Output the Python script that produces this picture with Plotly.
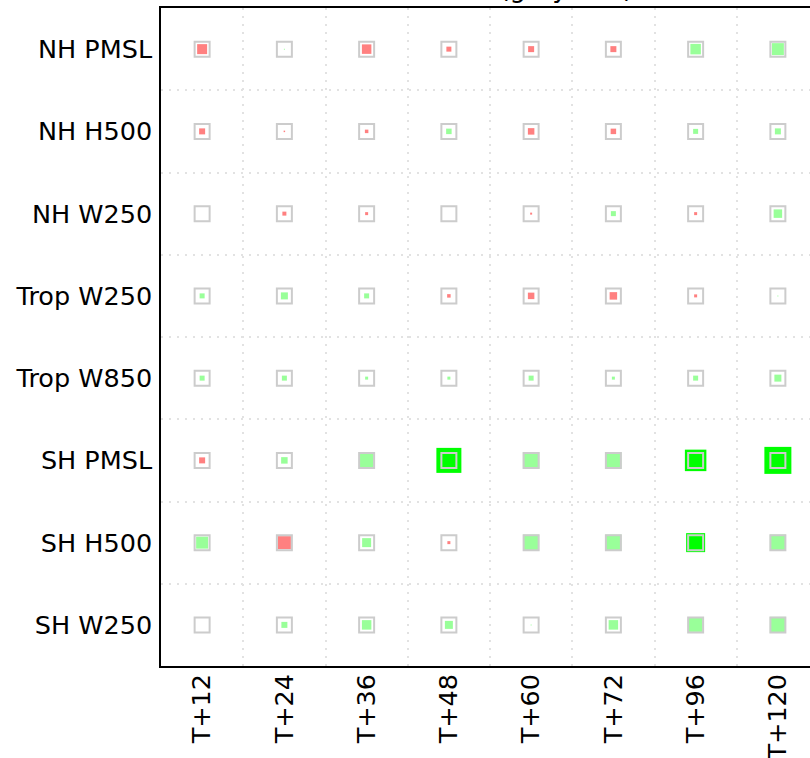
import plotly.graph_objects as go

# Verification scorecard: percentage change per parameter and lead time
parameters = ["NH PMSL", "NH H500", "NH W250", "Trop W250",
              "Trop W850", "SH PMSL", "SH H500", "SH W250"]
lead_times = ["T+12", "T+24", "T+36", "T+48", "T+60", "T+72", "T+96", "T+120"]

# Signed change (%) for each parameter (rows) at each lead time (columns)
nh_pmsl = [-1.0, 0.1, -0.95, -0.5, -0.6, -0.6, 1.05, 1.2]
nh_h500 = [-0.6, -0.15, -0.35, 0.55, -0.65, -0.55, 0.5, 0.6]
nh_w250 = [0.0, -0.4, -0.3, 0.0, -0.2, 0.5, -0.3, 0.85]
trop_w250 = [0.5, 0.7, 0.5, -0.35, -0.65, -0.75, -0.3, 0.1]
trop_w850 = [0.5, 0.5, 0.3, 0.3, 0.5, 0.3, 0.5, 0.7]
sh_pmsl = [-0.6, 0.65, 1.4, 2.5, 1.65, 1.6, 2.15, 2.7]
sh_h500 = [1.2, -1.3, 0.9, -0.3, 1.6, 1.6, 1.9, 1.6]
sh_w250 = [0.0, 0.6, 0.95, 0.8, 0.1, 0.95, 1.4, 1.6]

# 95% confidence half-range (%) shown as the grey box
confidence = 1.7

rows = [nh_pmsl, nh_h500, nh_w250, trop_w250, trop_w850, sh_pmsl, sh_h500, sh_w250]

PX_PER_PCT = 10  # marker side length in pixels per 1 % change

LIGHT_GREEN = "#99ff99"
LIGHT_RED = "#ff8080"
BRIGHT_GREEN = "#00ff00"
BRIGHT_RED = "#ff0000"

xs, ys, sizes, colors = [], [], [], []
for r, vals in enumerate(rows):
    for c, v in enumerate(vals):
        xs.append(c)
        ys.append(r)
        sizes.append(abs(v) * PX_PER_PCT)
        significant = abs(v) > confidence
        if v >= 0:
            colors.append(BRIGHT_GREEN if significant else LIGHT_GREEN)
        else:
            colors.append(BRIGHT_RED if significant else LIGHT_RED)

box_x = [c for r in range(len(parameters)) for c in range(len(lead_times))]
box_y = [r for r in range(len(parameters)) for c in range(len(lead_times))]

fig = go.Figure()

# filled squares: size ~ magnitude of the change
fig.add_trace(go.Scatter(
    x=xs, y=ys, mode="markers",
    marker=dict(symbol="square", size=sizes, color=colors, opacity=1,
                line=dict(width=0)),
    hoverinfo="skip", showlegend=False,
))

# grey confidence boxes drawn on top
fig.add_trace(go.Scatter(
    x=box_x, y=box_y, mode="markers",
    marker=dict(symbol="square", size=confidence * PX_PER_PCT - 2,
                color="rgba(0,0,0,0)", opacity=1,
                line=dict(width=2, color="#cccccc")),
    hoverinfo="skip", showlegend=False,
))

W, H = 810, 758
left, top, bottom = 161, 8, 92
plot_w = W - left
cell = (H - top - bottom) / len(parameters)
x_max = -0.5 + plot_w / cell

font = dict(family="DejaVu Sans", size=25.5, color="#000000")
grid = dict(tick0=0.5, dtick=1, showgrid=True,
            gridcolor="#e2e2e2", griddash="2px,6px", gridwidth=1.5)

fig.update_layout(
    width=W, height=H,
    margin=dict(l=left, r=0, t=top, b=bottom, pad=0, autoexpand=False),
    plot_bgcolor="white", paper_bgcolor="white",
    font=font,
    xaxis=dict(
        range=[-0.5, x_max], automargin=False,
        tickmode="array", tickvals=list(range(len(lead_times))),
        ticktext=lead_times, tickangle=-90, ticks="", ticklabelstandoff=-4,
        showgrid=False, zeroline=False,
        showline=True, linecolor="black", linewidth=1.5, mirror=True,
        minor=grid, tickfont=font,
    ),
    yaxis=dict(
        range=[len(parameters) - 0.5, -0.5], automargin=False,
        tickmode="array", tickvals=list(range(len(parameters))),
        ticktext=parameters, ticks="", ticklabelstandoff=2,
        showgrid=False, zeroline=False,
        showline=True, linecolor="black", linewidth=1.5, mirror=False,
        minor=grid, tickfont=font,
    ),
    annotations=[dict(
        text="RMS error (grey box)", xref="paper", yref="paper",
        x=(498 - left) / plot_w, y=1 + 3 / (H - top - bottom),
        xanchor="center", yanchor="bottom", showarrow=False,
        font=dict(family="DejaVu Sans", size=26, color="#000000"),
    )],
)

fig.write_html("out.html")
